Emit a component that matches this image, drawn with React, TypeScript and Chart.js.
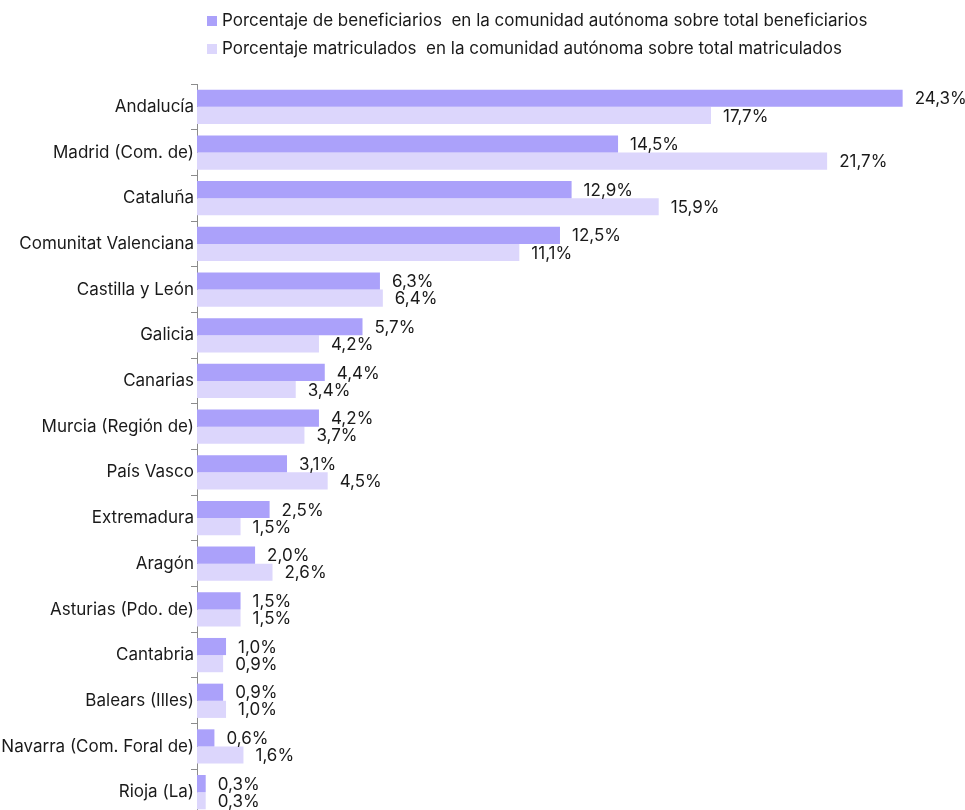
import React, { useEffect, useRef } from "react";
import { Chart, registerables } from "chart.js";

Chart.register(...registerables);

const categories = [
  "Andalucía",
  "Madrid (Com. de)",
  "Cataluña",
  "Comunitat Valenciana",
  "Castilla y León",
  "Galicia",
  "Canarias",
  "Murcia (Región de)",
  "País Vasco",
  "Extremadura",
  "Aragón",
  "Asturias (Pdo. de)",
  "Cantabria",
  "Balears (Illes)",
  "Navarra (Com. Foral de)",
  "Rioja (La)",
];

const beneficiarios = [24.3, 14.5, 12.9, 12.5, 6.3, 5.7, 4.4, 4.2, 3.1, 2.5, 2.0, 1.5, 1.0, 0.9, 0.6, 0.3];
const matriculados = [17.7, 21.7, 15.9, 11.1, 6.4, 4.2, 3.4, 3.7, 4.5, 1.5, 2.6, 1.5, 0.9, 1.0, 1.6, 0.3];

const seriesNames = [
  "Porcentaje de beneficiarios  en la comunidad autónoma sobre total beneficiarios",
  "Porcentaje matriculados  en la comunidad autónoma sobre total matriculados",
];

const colorDark = "#aba1fa";
const colorLight = "#dcd6fc";
const FONT = "Inter, 'Noto Sans', sans-serif";
const FONT_SIZE = 17;

const fmt = (v: number) => v.toFixed(1).replace(".", ",") + "%";

export default function App() {
  const ref = useRef<HTMLCanvasElement | null>(null);

  useEffect(() => {
    document.body.style.overflow = "hidden";
    const canvas = ref.current;
    if (!canvas) return;

    const labelPlugin = {
      id: "valueLabels",
      afterDatasetsDraw(chart: any) {
        const ctx = chart.ctx;
        ctx.save();
        ctx.font = `${FONT_SIZE}px ${FONT}`;
        ctx.fillStyle = "#1a1a1a";
        ctx.textAlign = "left";
        ctx.textBaseline = "middle";
        chart.data.datasets.forEach((ds: any, di: number) => {
          const meta = chart.getDatasetMeta(di);
          meta.data.forEach((el: any, i: number) => {
            ctx.fillText(fmt(ds.data[i]), el.x + 12, el.y + 1);
          });
        });
        ctx.restore();
      },
    };

    const legendPlugin = {
      id: "customLegend",
      afterDraw(chart: any) {
        const ctx = chart.ctx;
        ctx.save();
        ctx.font = `${FONT_SIZE}px ${FONT}`;
        ctx.textAlign = "left";
        ctx.textBaseline = "middle";
        const cols = [colorDark, colorLight];
        const rows = [21, 49];
        seriesNames.forEach((name, i) => {
          ctx.fillStyle = cols[i];
          ctx.fillRect(207, rows[i] - 5, 10, 10);
          ctx.fillStyle = "#1a1a1a";
          ctx.fillText(name, 222, rows[i]);
        });
        ctx.restore();
      },
    };

    const chart = new Chart(canvas, {
      type: "bar",
      data: {
        labels: categories,
        datasets: [
          {
            label: seriesNames[0],
            data: beneficiarios,
            backgroundColor: colorDark,
            categoryPercentage: 0.75,
            barPercentage: 1,
          },
          {
            label: seriesNames[1],
            data: matriculados,
            backgroundColor: colorLight,
            categoryPercentage: 0.75,
            barPercentage: 1,
          },
        ],
      },
      options: {
        indexAxis: "y",
        animation: false,
        responsive: false,
        maintainAspectRatio: false,
        layout: { padding: { top: 84, right: 13, bottom: 0, left: 0 } },
        plugins: {
          legend: { display: false },
          tooltip: { enabled: false },
        },
        scales: {
          x: {
            display: false,
            min: 0,
            max: 26,
          },
          y: {
            afterFit: (s: any) => {
              s.width = 197;
              s.paddingTop = 0;
              s.paddingBottom = 0;
            },
            grid: {
              drawOnChartArea: false,
              drawTicks: true,
              tickLength: 6,
              color: "#8c8c8c",
              offset: true,
            },
            border: { display: true, color: "#8c8c8c", width: 1 },
            ticks: {
              color: "#1a1a1a",
              font: { family: FONT, size: FONT_SIZE },
              padding: -3,
              autoSkip: false,
            },
          },
        },
      },
      plugins: [labelPlugin, legendPlugin],
    } as any);

    return () => chart.destroy();
  }, []);

  return (
    <div style={{ position: "absolute", left: 0, top: 0, width: 965, height: 815 }}>
      <canvas ref={ref} width={965} height={815} style={{ display: "block" }} />
    </div>
  );
}
